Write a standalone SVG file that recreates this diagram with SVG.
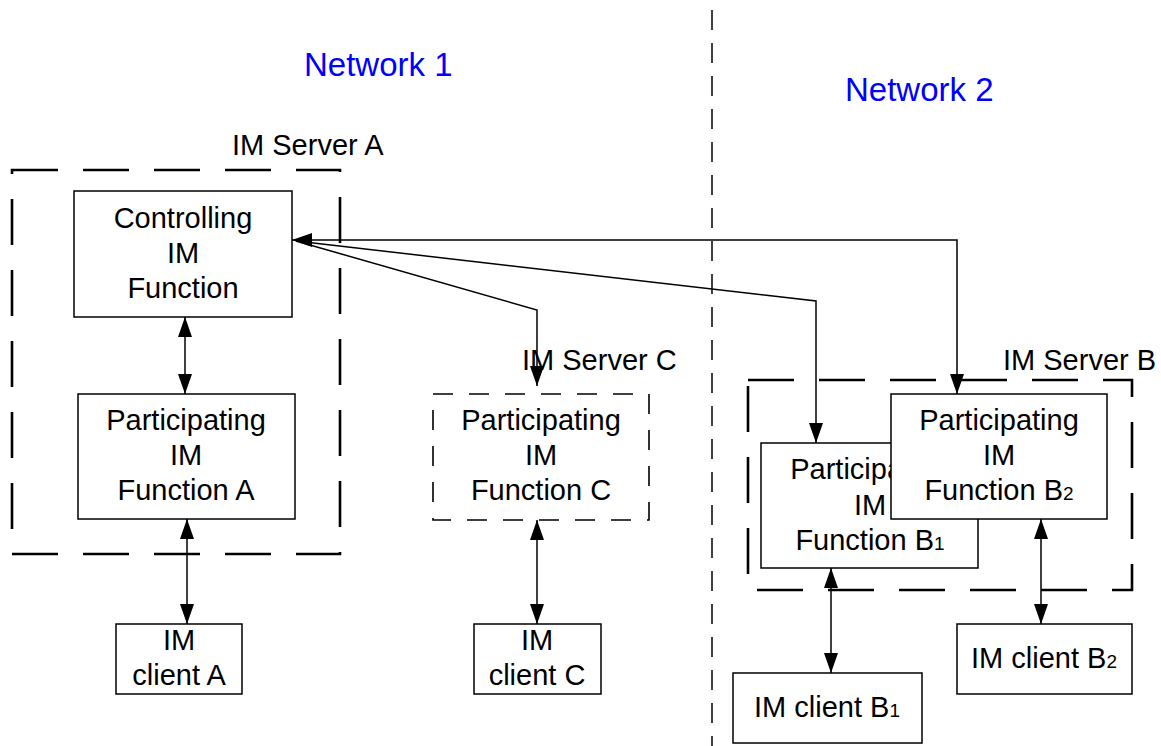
<svg xmlns="http://www.w3.org/2000/svg" width="1161" height="746" viewBox="0 0 1161 746">
<style>
text{font-family:"Liberation Sans",Arial,sans-serif;font-size:29px;fill:#000;text-anchor:middle}
.net{fill:#0000ff;font-size:33px;text-anchor:start}
.lbl{text-anchor:start}
.box{fill:#fff;stroke:#000;stroke-width:1.5}
.srv{fill:none;stroke:#000;stroke-width:2.6;stroke-dasharray:46 25}
.dbox{fill:#fff;stroke:#000;stroke-width:1.6;stroke-dasharray:20 16}
.con{fill:none;stroke:#000;stroke-width:1.5}
.sub{font-size:19px}
</style>
<defs>
<marker id="ah" viewBox="0 0 20 14" refX="20" refY="7" markerWidth="20" markerHeight="14" markerUnits="userSpaceOnUse" orient="auto-start-reverse">
<path d="M0,0 L20,7 L0,14 Z" fill="#000"/>
</marker>
</defs>
<rect width="1161" height="746" fill="#fff"/>
<line x1="712" y1="10" x2="712" y2="746" stroke="#000" stroke-width="1.5" stroke-dasharray="20 13"/>
<text class="net" x="304" y="76">Network 1</text>
<text class="net" x="845" y="101">Network 2</text>

<g id="server-a">
<rect class="srv" x="12" y="170" width="328" height="384"/>
<text class="lbl" x="232" y="155">IM Server A</text>
</g>
<g id="server-c-label">
<text class="lbl" x="522" y="370">IM Server C</text>
</g>
<g id="server-b">
<rect class="srv" x="748" y="380" width="384" height="210"/>
<text class="lbl" x="1003" y="370">IM Server B</text>
</g>

<g id="controlling">
<rect class="box" x="74" y="191" width="218" height="126"/>
<text x="183" y="228">Controlling</text>
<text x="183" y="263">IM</text>
<text x="183" y="298">Function</text>
</g>
<g id="part-a">
<rect class="box" x="78" y="394" width="217" height="125"/>
<text x="186" y="430">Participating</text>
<text x="186" y="465">IM</text>
<text x="186" y="500">Function A</text>
</g>
<g id="part-c">
<rect class="dbox" x="433" y="394" width="216" height="126"/>
<text x="541" y="430">Participating</text>
<text x="541" y="465">IM</text>
<text x="541" y="500">Function C</text>
</g>
<g id="part-b1">
<rect class="box" x="761" y="443" width="217" height="125"/>
<text x="870" y="479">Participating</text>
<text x="870" y="515">IM</text>
<text x="870" y="550">Function B<tspan class="sub">1</tspan></text>
</g>
<g id="part-b2">
<rect class="box" x="891" y="394" width="216" height="125"/>
<text x="999" y="430">Participating</text>
<text x="999" y="465">IM</text>
<text x="999" y="500">Function B<tspan class="sub">2</tspan></text>
</g>
<g id="client-a">
<rect class="box" x="116" y="624" width="126" height="70"/>
<text x="179" y="650">IM</text>
<text x="179" y="685">client A</text>
</g>
<g id="client-c">
<rect class="box" x="474" y="624" width="127" height="70"/>
<text x="537" y="650">IM</text>
<text x="537" y="685">client C</text>
</g>
<g id="client-b1">
<rect class="box" x="733" y="673" width="189" height="70"/>
<text x="827" y="717">IM client B<tspan class="sub">1</tspan></text>
</g>
<g id="client-b2">
<rect class="box" x="957" y="624" width="175" height="70"/>
<text x="1044" y="668">IM client B<tspan class="sub">2</tspan></text>
</g>

<g id="connectors">
<path class="con" d="M292,240 L957,240 L957,394" marker-start="url(#ah)" marker-end="url(#ah)"/>
<path class="con" d="M296,241 L816,301 L816,443" marker-end="url(#ah)"/>
<path class="con" d="M296,241 L537,310 L537,386" marker-end="url(#ah)"/>
<line class="con" x1="185" y1="317" x2="185" y2="394" marker-start="url(#ah)" marker-end="url(#ah)"/>
<line class="con" x1="187" y1="519" x2="187" y2="624" marker-start="url(#ah)" marker-end="url(#ah)"/>
<line class="con" x1="537" y1="520" x2="537" y2="624" marker-start="url(#ah)" marker-end="url(#ah)"/>
<line class="con" x1="831" y1="568" x2="831" y2="673" marker-start="url(#ah)" marker-end="url(#ah)"/>
<line class="con" x1="1041" y1="519" x2="1041" y2="624" marker-start="url(#ah)" marker-end="url(#ah)"/>
</g>
</svg>
